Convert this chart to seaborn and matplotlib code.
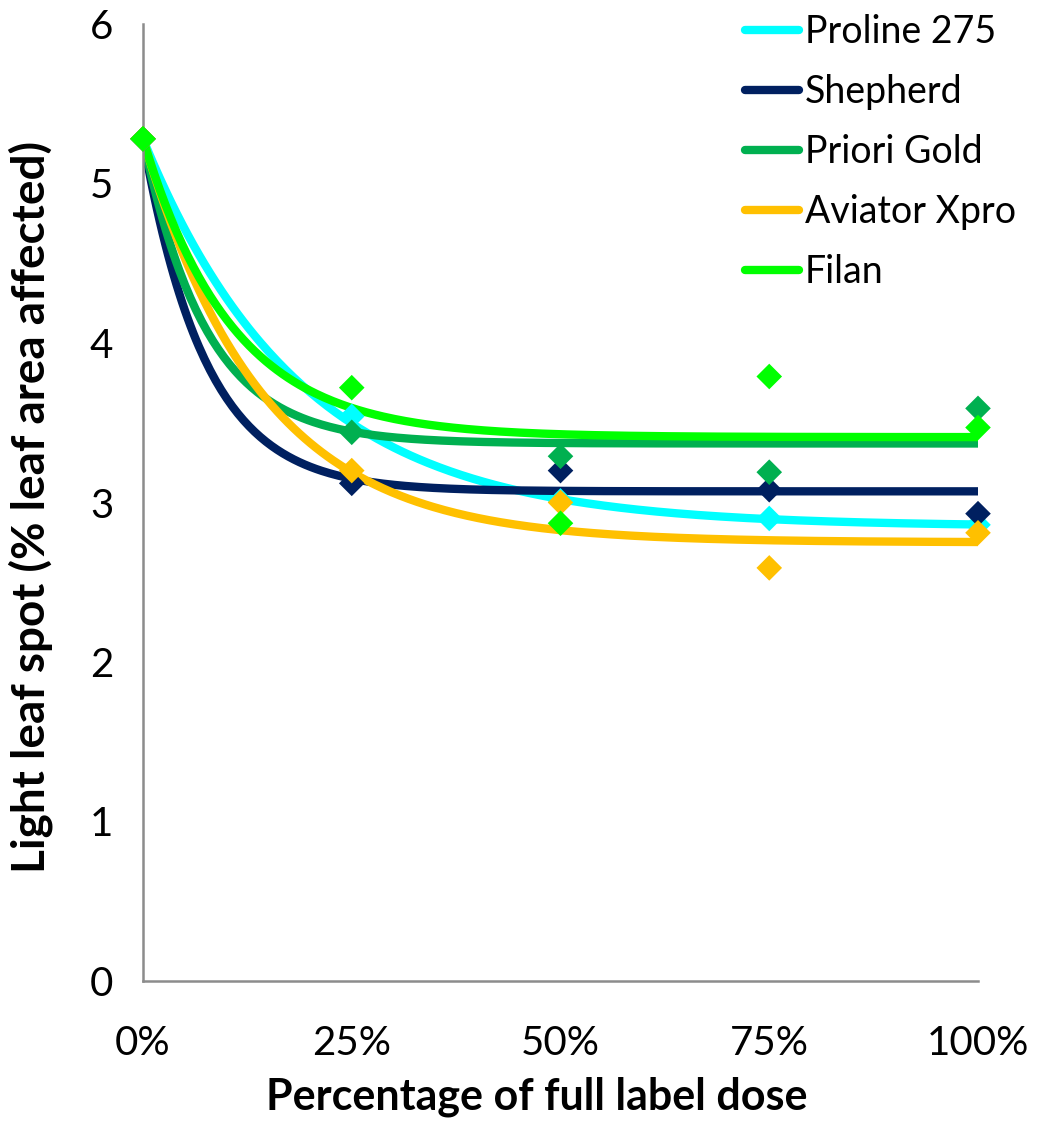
import numpy as np
import pandas as pd
import seaborn as sns
import matplotlib
matplotlib.use("Agg")
import matplotlib.pyplot as plt
from matplotlib.ticker import PercentFormatter
from matplotlib.lines import Line2D

# ---- data ----
dose = [0.0, 0.25, 0.5, 0.75, 1.0]
products = ["Proline 275", "Shepherd", "Priori Gold", "Aviator Xpro", "Filan"]
proline = [5.28, 3.54, 3.01, 2.90, 2.86]
shepherd = [5.28, 3.12, 3.20, 3.08, 2.93]
priori = [5.28, 3.44, 3.29, 3.19, 3.59]
aviator = [5.28, 3.20, 3.00, 2.59, 2.81]
filan = [5.28, 3.72, 2.87, 3.79, 3.47]
# fitted exponential-decay trend curves (parameters)
curve_start = 5.28
curve_asymptote = [2.85, 3.07, 3.37, 2.75, 3.41]
curve_rate = [5.3, 13.3, 13.0, 7.0, 9.3]
colors = ["#00FFFF", "#002060", "#00B050", "#FFC000", "#00FF00"]
y_ticks = [0, 1, 2, 3, 4, 5, 6]
x_ticks = [0, 0.25, 0.5, 0.75, 1.0]

sns.set_style("white")
plt.rcParams["font.family"] = ["Lato", "DejaVu Sans"]
plt.rcParams["text.color"] = "black"
plt.rcParams["axes.labelcolor"] = "black"

series = [proline, shepherd, priori, aviator, filan]
pts = pd.DataFrame({
    "dose": np.tile(dose, len(products)),
    "value": np.concatenate(series),
    "product": np.repeat(products, len(dose)),
})

xs = np.linspace(0, 1, 300)
curves = pd.concat([
    pd.DataFrame({"dose": xs,
                  "value": a + (curve_start - a) * np.exp(-k * xs),
                  "product": p})
    for p, a, k in zip(products, curve_asymptote, curve_rate)
])

fig = plt.figure(figsize=(10.41, 11.23), dpi=100)
ax = fig.add_axes([143 / 1041, 1 - 981 / 1123, (978 - 143) / 1041, (981 - 24) / 1123])

palette = dict(zip(products, colors))
for p in products:
    sub = pts[pts["product"] == p]
    sns.scatterplot(data=sub, x="dose", y="value", ax=ax, color=palette[p],
                    marker="D", s=170, edgecolor="none", clip_on=False,
                    zorder=3, legend=False)
for p in products:
    sub = curves[curves["product"] == p]
    sns.lineplot(data=sub, x="dose", y="value", ax=ax, color=palette[p],
                 linewidth=6, zorder=2, legend=False,
                 solid_capstyle="butt")

ax.set_xlim(0, 1)
ax.set_ylim(0, 6)
ax.set_xticks(x_ticks)
ax.set_yticks(y_ticks)
ax.xaxis.set_major_formatter(PercentFormatter(1.0, decimals=0))

for s in ["top", "right"]:
    ax.spines[s].set_visible(False)
for s in ["left", "bottom"]:
    ax.spines[s].set_color("#8c8c8c")
    ax.spines[s].set_linewidth(1.8)

ax.tick_params(axis="both", which="major", direction="out", length=11.5,
               width=1.8, color="#8c8c8c", labelsize=29, labelcolor="black")
ax.tick_params(axis="y", pad=10)
ax.tick_params(axis="x", pad=20)

ax.set_xlabel("Percentage of full label dose", fontsize=31, fontweight="bold",
              color="black")
ax.xaxis.set_label_coords(0.471, -0.1)
ax.set_ylabel("Light leaf spot (% leaf area affected)", fontsize=33,
              fontweight="bold", color="black")
ax.yaxis.set_label_coords(-0.108, 0.495)

handles = [Line2D([0], [0], color=c, lw=6, solid_capstyle="round") for c in colors]
fig.legend(handles, products, loc="upper left", bbox_to_anchor=(0.69, 1.011),
           frameon=False, fontsize=27, handlelength=1.45, handletextpad=0.15,
           labelspacing=0.64, borderaxespad=0.3)

fig.savefig("out.png", dpi=100)
